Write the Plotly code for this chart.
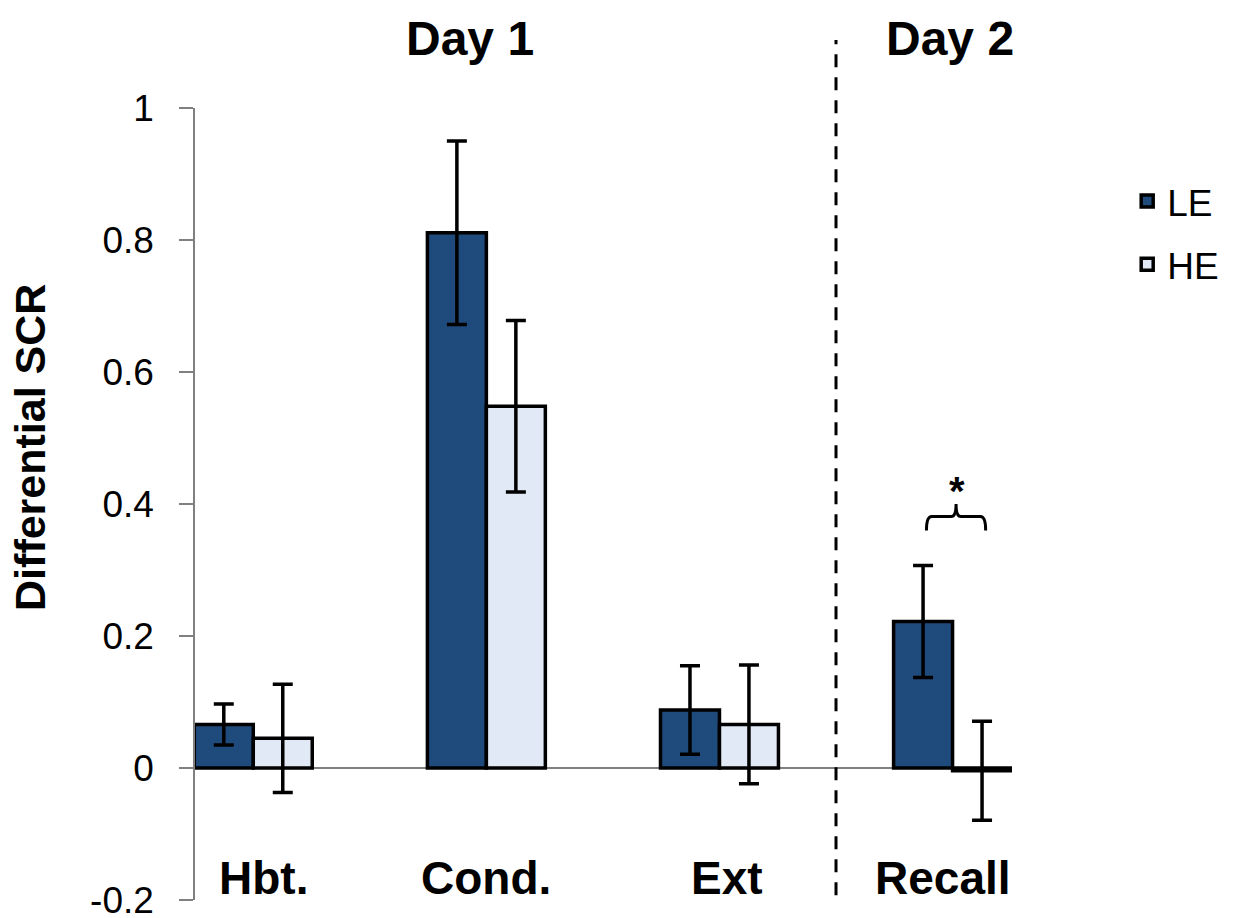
import plotly.graph_objects as go

categories = ["Hbt.", "Cond.", "Ext", "Recall"]
le_values = [0.066, 0.811, 0.088, 0.222]
le_errors = [0.031, 0.139, 0.067, 0.085]
he_values = [0.045, 0.548, 0.066, -0.004]
he_errors = [0.082, 0.130, 0.090, 0.075]
tick_vals = [-0.2, 0, 0.2, 0.4, 0.6, 0.8, 1]
tick_text = ["-0.2", "0", "0.2", "0.4", "0.6", "0.8", "1"]
label_shift = [10, 0, 8, -10]

x = list(range(len(categories)))
FONT = "Arial, Liberation Sans, sans-serif"

fig = go.Figure()
fig.add_trace(go.Bar(
    x=x, y=le_values, name="LE", legendgroup="le",
    marker=dict(color="#1F4A7C", line=dict(color="black", width=3.5)),
    error_y=dict(type="data", array=le_errors, color="black", thickness=3.5, width=10),
))
fig.add_trace(go.Bar(
    x=x, y=he_values, name="HE", legendgroup="he",
    marker=dict(color="#E2E9F6", line=dict(color="black", width=3.5)),
    error_y=dict(type="data", array=he_errors, color="black", thickness=3.5, width=10),
))

fig.update_layout(
    width=1238, height=918,
    margin=dict(l=195, r=226, t=108, b=18, autoexpand=False),
    paper_bgcolor="white", plot_bgcolor="white",
    barmode="group", bargap=0.494, bargroupgap=0,
    font=dict(family=FONT, color="black"),
    showlegend=True,
    legend=dict(x=1.141, xanchor="left", y=0.921, yanchor="top",
                font=dict(size=37, family=FONT), bgcolor="rgba(0,0,0,0)",
                traceorder="grouped", tracegroupgap=12),
    xaxis=dict(range=[-0.25, 3.255], showticklabels=False, showgrid=False,
               zeroline=False, showline=False, ticks="", automargin=False),
    yaxis=dict(range=[-0.2, 1], tickvals=tick_vals, ticktext=tick_text,
               showgrid=False, showline=True, linecolor="#808080", linewidth=1.5,
               ticks="outside", ticklen=14, tickcolor="#808080", tickwidth=1.5,
               zeroline=True, zerolinecolor="#808080", zerolinewidth=1.5,
               tickfont=dict(size=37, family=FONT), ticklabelstandoff=18,
               ticklabeloverflow="allow", automargin=False),
)

annotations = []
for i, c in enumerate(categories):
    annotations.append(dict(x=i, y=0.028, xref="x", yref="paper", text="<b>%s</b>" % c,
                            showarrow=False, xshift=label_shift[i],
                            font=dict(size=46, family=FONT), yanchor="middle"))
annotations.append(dict(x=0.931, y=1.088, xref="x", yref="paper", text="<b>Day 1</b>",
                        showarrow=False, font=dict(size=48, family=FONT), yanchor="middle"))
annotations.append(dict(x=2.987, y=1.088, xref="x", yref="paper", text="<b>Day 2</b>",
                        showarrow=False, font=dict(size=48, family=FONT), yanchor="middle"))
annotations.append(dict(x=-0.202, y=0.572, xref="paper", yref="paper", text="<b>Differential SCR</b>",
                        showarrow=False, textangle=-90, font=dict(size=43, family=FONT),
                        xanchor="center", yanchor="middle"))
annotations.append(dict(x=3.017, y=0.42, xref="x", yref="y", text="<b>*</b>",
                        showarrow=False, font=dict(size=40, family=FONT), yanchor="middle"))
fig.update_layout(annotations=annotations)

fig.add_shape(type="line", x0=2.5, x1=2.5, xref="x", y0=0.006, y1=1.086, yref="paper",
              line=dict(color="black", width=3, dash="13px,10px"))
fig.add_shape(type="path", xref="x", yref="y",
              path="M 2.888,0.360 Q 2.888,0.381 2.91,0.381 L 2.995,0.381 Q 3.015,0.381 3.015,0.40 "
                   "Q 3.015,0.381 3.035,0.381 L 3.12,0.381 Q 3.142,0.381 3.142,0.360",
              line=dict(color="black", width=3))

fig.write_html("out.html", config={"displayModeBar": False},
               post_script="document.body.style.margin='0px';document.body.style.overflow='hidden';")
